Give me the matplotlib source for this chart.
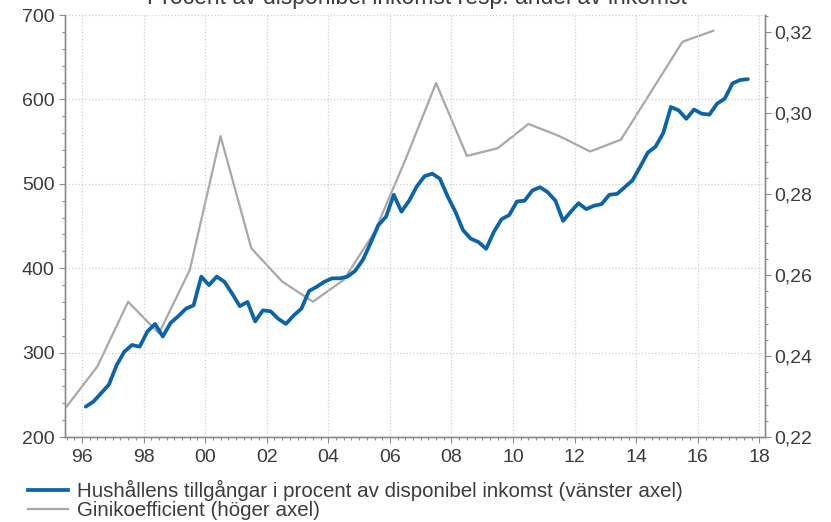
import matplotlib

matplotlib.use("Agg")
import matplotlib.pyplot as plt
import numpy as np
import pandas as pd
from matplotlib.ticker import FuncFormatter, MultipleLocator

plt.rcParams["font.family"] = ["Liberation Sans", "DejaVu Sans"]

BLUE = "#0b63a8"
GREY = "#a8a8a8"
TXT = "#3c3c3c"
GRID = "#cfcfcf"

# Household assets, % of disposable income (quarterly, from 1996Q1)
assets = [
    236, 242, 252, 262,
    285, 301, 309, 307,
    325, 334, 319, 335,
    343, 352, 356, 390,
    380, 390, 384, 370,
    355, 360, 337, 350,
    349, 340, 334, 344,
    352, 373, 378, 384,
    388, 388, 390, 397,
    410, 430, 451, 461,
    487, 467, 480, 497,
    509, 512, 506, 485,
    467, 445, 435, 431,
    423, 443, 458, 463,
    479, 480, 492, 496,
    490, 480, 456, 467,
    477, 470, 474, 476,
    487, 488, 496, 504,
    520, 537, 544, 560,
    591, 587, 577, 588,
    583, 582, 595, 601,
    619, 623, 624,
]
gini_years = list(range(1995, 2017))
gini = [0.2275, 0.2374, 0.2534, 0.2456, 0.2612, 0.2943, 0.2666, 0.2584,
        0.2534, 0.2588, 0.2706, 0.2884, 0.3074, 0.2894, 0.2913, 0.2973,
        0.2943, 0.2905, 0.2934, 0.3055, 0.3176, 0.3203]

title = "Procent av disponibel inkomst resp. andel av inkomst"
label_assets = "Hushållens tillgångar i procent av disponibel inkomst (vänster axel)"
label_gini = "Ginikoefficient (höger axel)"

q = pd.period_range("1996Q1", periods=len(assets), freq="Q")
x_assets = q.year + (q.quarter - 1) * 0.25 + 0.125
x_gini = np.array(gini_years) + 0.5

fig = plt.figure(figsize=(8.31, 5.22), dpi=100)
ax = fig.add_axes([65 / 831, 1 - 437 / 522, 700 / 831, 422 / 522])
ax2 = ax.twinx()

ax.plot(x_assets, assets, color=BLUE, lw=2.7, solid_capstyle="round", zorder=3)
ax2.plot(x_gini, gini, color=GREY, lw=1.6, zorder=2)
ax.set_zorder(ax2.get_zorder() + 1)
ax.patch.set_visible(False)

ax.set_xlim(1995.45, 2018.18)
ax.set_ylim(200, 700)
ax2.set_ylim(0.22, 0.22 + 0.1042)

ax.xaxis.set_major_locator(MultipleLocator(2))
ax.xaxis.set_minor_locator(MultipleLocator(0.25))
ax.xaxis.set_major_formatter(FuncFormatter(lambda v, p: f"{int(round(v)) % 100:02d}"))
ax.yaxis.set_major_locator(MultipleLocator(100))
ax.yaxis.set_minor_locator(MultipleLocator(20))
ax2.yaxis.set_major_locator(MultipleLocator(0.02))
ax2.yaxis.set_minor_locator(MultipleLocator(0.004))
ax2.yaxis.set_major_formatter(FuncFormatter(lambda v, p: f"{v:.2f}".replace(".", ",")))

ax.grid(True, which="major", color=GRID, ls=":", lw=0.9)

for a in (ax, ax2):
    a.spines["top"].set_visible(False)
    for s in ("left", "right", "bottom"):
        a.spines[s].set_color("#8c8c8c")
        a.spines[s].set_linewidth(1.0)
    a.tick_params(which="major", length=4, width=0.8, color="#8c8c8c",
                  labelsize=14, labelcolor=TXT)
    a.tick_params(which="minor", length=2.5, width=0.8, color="#8c8c8c")

ax.tick_params(axis="x", which="both", pad=5)
ax2.tick_params(axis="y", which="both", pad=3)

# title sits partly above the top edge, as in the source image
fig.text(0.502, 1 - 4 / 522, title, ha="center", va="baseline", fontsize=16.5,
         color=TXT)

h1, = ax.plot([], [], color=BLUE, lw=2.7)
h2, = ax.plot([], [], color=GREY, lw=1.6)
fig.legend([h1, h2], [label_assets, label_gini], loc="upper left",
           bbox_to_anchor=(28 / 831, 1 - 480 / 522), frameon=False,
           fontsize=14.8, labelcolor=TXT, handlelength=1.95, handletextpad=0.45,
           labelspacing=0.0, borderpad=0, borderaxespad=0)

fig.savefig("out.png", dpi=100)
